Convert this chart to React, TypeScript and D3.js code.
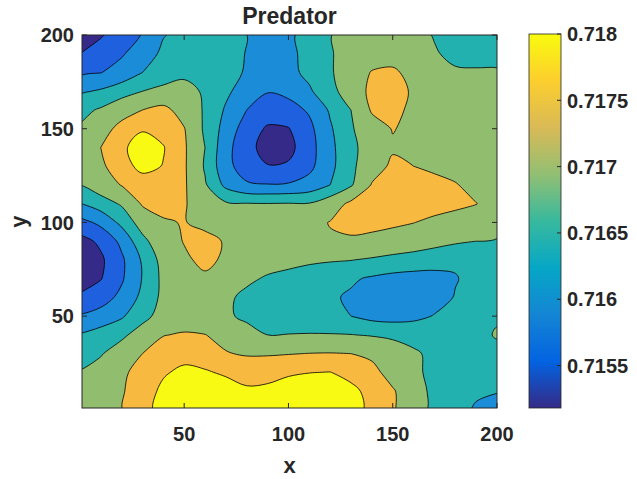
import React from 'react'
import * as d3 from 'd3'

// grid positions (x left->right, y top->bottom)
const gridX = [0, 10, 20, 30, 40, 50, 60, 70, 80, 90, 100, 110, 120, 130, 140, 150, 160, 170, 180, 190, 200]
const gridY = [200, 190, 180, 170, 160, 150, 140, 130, 120, 110, 100, 90, 80, 70, 60, 50, 40, 30, 20, 10, 0]

// predator density, in units of 1e-4 above 0.715
const base = 0.715
const unit = 1e-4
const predator = [
  [2.5, 4.6, 7, 9.2, 12.8, 14, 15, 14.5, 13, 11.5, 12.6, 13.8, 16.9, 18, 18.5, 18.5, 18, 16.8, 15.5, 15, 15],
  [5.0, 6.8, 8.6, 11, 13.8, 15, 15.5, 14.8, 12.8, 11, 12.3, 13.9, 16.8, 18, 19.5, 20, 18.5, 17.3, 16.2, 15.8, 15.8],
  [8.2, 8.9, 10.5, 13, 15, 16.2, 16.3, 14.8, 12.5, 10.5, 12, 13.9, 16.6, 19, 22.3, 22.8, 20.5, 18.5, 17.4, 17.4, 17.4],
  [12.4, 13.5, 15.2, 17, 18, 18.3, 16.5, 13.8, 11, 9.2, 10, 12.5, 15.5, 19.5, 23, 23.5, 21.5, 19.5, 18.5, 18.3, 18.2],
  [15.8, 17.5, 20, 22, 23.3, 20, 16.5, 12.5, 9, 7, 7.5, 9.5, 13.5, 17, 22.5, 23.2, 21, 19.5, 18.8, 18.6, 18.5],
  [17.5, 20, 23.5, 26.5, 25, 22.2, 16.2, 11.5, 7, 4.5, 4.8, 8, 12.5, 16.5, 20, 22.2, 21, 19.8, 19.2, 19, 18.8],
  [19.5, 22, 26, 29.5, 27.3, 22.6, 17, 10.2, 6.5, 3.2, 3.8, 7.5, 12, 16, 19, 21.5, 21, 20, 19.5, 19.2, 19],
  [19, 21, 25, 28.5, 26.8, 22.6, 16.5, 10.2, 7, 5.2, 5.5, 8, 12, 16, 20, 22.8, 22, 21, 20.3, 20, 19.5],
  [17, 19.5, 22.2, 24.5, 24.5, 22.6, 17.5, 12, 9.5, 9.2, 9.4, 10.5, 13, 16.5, 22.3, 24, 24.2, 23.5, 22.3, 20.5, 19.8],
  [12.8, 15, 17.5, 22.5, 23.2, 22.4, 19.5, 17.5, 17.2, 17.1, 17.2, 17.2, 19.5, 23, 24.3, 24.5, 24.2, 23.8, 23, 22.1, 20.5],
  [7.5, 10, 14, 19, 21.6, 22.2, 20.8, 19, 18.8, 19, 19.5, 20.5, 22.2, 23.5, 23.3, 22.8, 22.1, 21, 20.2, 19.8, 19.5],
  [3.5, 5.8, 10, 15.8, 20, 22.2, 23.4, 21.6, 19.5, 19.5, 20, 20.5, 21.5, 21.3, 20.8, 20, 19.2, 18.4, 17.6, 17, 16.6],
  [2, 4.3, 8.3, 13.5, 18.5, 21.3, 23, 21.3, 19.5, 18.8, 18, 17.5, 17.3, 17.1, 16.5, 15.8, 15.3, 14.5, 13.5, 14, 14.5],
  [2.5, 4.8, 8.5, 13.2, 18, 20.5, 21.3, 19.5, 17.8, 16.5, 16, 15.5, 14.6, 13.5, 12.5, 11.8, 11.5, 11.8, 12.8, 14, 14.6],
  [5.8, 7.3, 10, 14, 18, 19.5, 19.3, 17.8, 16, 14.8, 14.5, 14.2, 13.5, 12.5, 11, 10.5, 10.6, 11.5, 13.2, 14.2, 14.8],
  [9.3, 10.5, 12.5, 15.8, 18.5, 19.2, 18.8, 17.6, 16.2, 15.3, 15, 14.8, 14.2, 13, 11.8, 11.5, 12, 13.2, 14.5, 15.8, 16.8],
  [13.3, 14.8, 16.2, 18.8, 21.8, 22.5, 22.1, 20.5, 18.5, 17, 17.1, 17.2, 17.2, 17.1, 16.7, 16.2, 15.8, 15.4, 15.8, 16.5, 17.15],
  [15.5, 16.7, 19, 22, 24.5, 25.5, 24.5, 22.3, 21.5, 21.5, 21.8, 22.1, 22.2, 22, 21, 19.3, 17.5, 16.2, 15.8, 16, 16.5],
  [17.2, 18.5, 21, 24, 26.5, 28, 27.5, 26.3, 25.5, 25.8, 26.3, 26.9, 27.1, 25.5, 23.5, 20, 17.8, 16, 15, 14.5, 14],
  [18, 19.5, 21.5, 24.8, 28, 29.5, 29.8, 29.3, 27.6, 27.8, 29.5, 29.8, 29.5, 28.2, 25.5, 22.5, 18.8, 16, 14.5, 13.5, 13.2],
  [18.5, 20, 21.8, 25.5, 28.5, 30, 30.2, 30, 29.8, 29.8, 30, 30.2, 30, 28.5, 26, 22.5, 18.8, 16, 14, 12.6, 11.5],
]

const levels = [0.7155, 0.7159, 0.7163, 0.7167, 0.7172, 0.7177]
const bandColors = ['#352a87', '#1f60de', '#1b8cd8', '#22b1ae', '#91bd6f', '#f8b941', '#f9fa14']

const xTicks = [50, 100, 150, 200]
const yTicks = [50, 100, 150, 200]
const cbarTicks = [0.7155, 0.716, 0.7165, 0.717, 0.7175, 0.718]
const cbarRange = [0.71518, 0.718]
const parula = ['#352a87', '#0363e1', '#1485d4', '#06a7c6', '#38b99e', '#92bf73', '#d9ba56', '#fcce2e', '#f9fb0e']

const W = 637, H = 479
const plot = { left: 82, right: 497, top: 35, bottom: 408 }
const cbar = { left: 529, right: 561, top: 34, bottom: 408 }
const ink = '#262626'
const font = '"Liberation Sans", Arial, Helvetica, sans-serif'

export default function App() {
  const x = d3.scaleLinear().domain([1, 200]).range([plot.left, plot.right])
  const y = d3.scaleLinear().domain([1, 200]).range([plot.bottom, plot.top])
  const cy = d3.scaleLinear().domain(cbarRange).range([cbar.bottom, cbar.top])

  const n = gridX.length, m = gridY.length
  // contour grid space -> pixels (grid point i sits at i + 0.5)
  const gx = d3.scaleLinear().domain([0.5, n - 0.5]).range([x(gridX[0]), x(gridX[n - 1])])
  const gy = d3.scaleLinear().domain([0.5, m - 0.5]).range([y(gridY[0]), y(gridY[m - 1])])

  const values = predator.flat().map(v => base + v * unit)
  const contours = d3.contours().size([n, m]).thresholds(levels)(values)

  const ringLine = d3.line<number[]>()
    .x(p => gx(p[0]))
    .y(p => gy(p[1]))
    .curve(d3.curveCatmullRomClosed.alpha(0.5))

  const pathOf = (geo: any) =>
    geo.coordinates.map((poly: number[][][]) =>
      poly.map(ring => ringLine(ring.slice(0, -1)) || '').join('')).join('')

  const tickLen = 5

  return (
    <svg width={W} height={H} style={{ position: 'absolute', left: 0, top: 0, background: '#fff' }}
      fontFamily={font} fontWeight="bold" fill={ink}>
      <defs>
        <clipPath id="plotClip">
          <rect x={plot.left} y={plot.top} width={plot.right - plot.left} height={plot.bottom - plot.top} />
        </clipPath>
        <linearGradient id="parula" x1="0" y1="1" x2="0" y2="0">
          {parula.map((c, i) => (
            <stop key={i} offset={i / (parula.length - 1)} stopColor={c} />
          ))}
        </linearGradient>
      </defs>

      <g clipPath="url(#plotClip)">
        <rect x={plot.left} y={plot.top} width={plot.right - plot.left} height={plot.bottom - plot.top}
          fill={bandColors[0]} />
        {contours.map((c, i) => (
          <path key={i} d={pathOf(c)} fill={bandColors[i + 1]} stroke="#000" strokeWidth={0.8}
            fillRule="nonzero" strokeLinejoin="round" />
        ))}
      </g>

      {/* frame + ticks */}
      <rect x={plot.left} y={plot.top} width={plot.right - plot.left} height={plot.bottom - plot.top}
        fill="none" stroke={ink} strokeWidth={1} />
      {xTicks.map(t => (
        <g key={'x' + t} stroke={ink} strokeWidth={1}>
          <line x1={x(t)} x2={x(t)} y1={plot.bottom} y2={plot.bottom - tickLen} />
          <line x1={x(t)} x2={x(t)} y1={plot.top} y2={plot.top + tickLen} />
        </g>
      ))}
      {yTicks.map(t => (
        <g key={'y' + t} stroke={ink} strokeWidth={1}>
          <line x1={plot.left} x2={plot.left + tickLen} y1={y(t)} y2={y(t)} />
          <line x1={plot.right} x2={plot.right - tickLen} y1={y(t)} y2={y(t)} />
        </g>
      ))}
      {xTicks.map(t => (
        <text key={'xl' + t} x={x(t)} y={441} fontSize={20} textAnchor="middle">{t}</text>
      ))}
      {yTicks.map(t => (
        <text key={'yl' + t} x={74} y={y(t)} dy="0.36em" fontSize={20} textAnchor="end">{t}</text>
      ))}

      <text x={(plot.left + plot.right) / 2} y={24} fontSize={23} textAnchor="middle">Predator</text>
      <text x={(plot.left + plot.right) / 2} y={473} fontSize={22} textAnchor="middle">x</text>
      <text transform={`translate(26,${(plot.top + plot.bottom) / 2}) rotate(-90)`} fontSize={22}
        textAnchor="middle">y</text>

      {/* colorbar */}
      <rect x={cbar.left} y={cbar.top} width={cbar.right - cbar.left} height={cbar.bottom - cbar.top}
        fill="url(#parula)" stroke={ink} strokeWidth={0.8} />
      {cbarTicks.map(t => (
        <g key={'c' + t}>
          <line x1={cbar.right} x2={cbar.right - 4} y1={cy(t)} y2={cy(t)} stroke={ink} strokeWidth={1} />
          <text x={567} y={cy(t)} dy="0.36em" fontSize={20}>{String(t)}</text>
        </g>
      ))}
    </svg>
  )
}
